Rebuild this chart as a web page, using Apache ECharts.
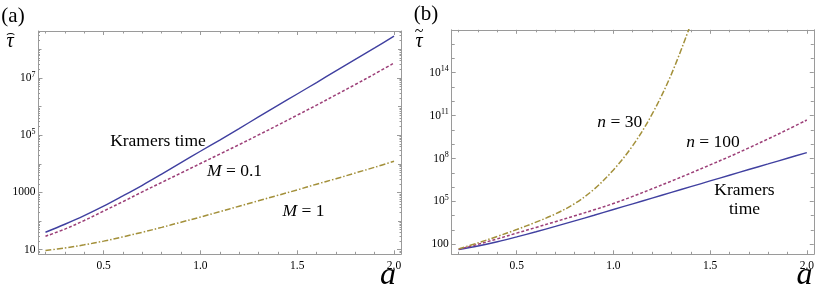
<!DOCTYPE html>
<html>
<head>
<meta charset="utf-8">
<script src="https://cdn.jsdelivr.net/npm/echarts@6/dist/echarts.min.js"></script>
<style>html,body{margin:0;padding:0;background:#fff;}#c{width:817px;height:287px;}</style>
</head>
<body>
<div id="c"></div>
<script>
// ---------- data (y values are log10 of tau) ----------
const aVals = [0.2,0.3,0.4,0.5,0.6,0.7,0.8,0.9,1.0,1.1,1.2,1.3,1.4,1.5,1.6,1.7,1.8,1.9,2.0];
// panel (a)
const kramersA = [1.61,1.89,2.19,2.52,2.88,3.25,3.64,4.04,4.44,4.83,5.23,5.64,6.04,6.44,6.84,7.25,7.65,8.05,8.46];
const m01A     = [1.47,1.72,2.02,2.35,2.68,3.02,3.35,3.68,4.01,4.34,4.67,5.01,5.35,5.70,6.05,6.41,6.77,7.14,7.52];
const m1A      = [0.97,1.06,1.17,1.30,1.45,1.61,1.78,1.96,2.14,2.33,2.52,2.71,2.90,3.09,3.29,3.48,3.68,3.88,4.09];
// panel (b)
const kramersB = [1.63,1.88,2.18,2.52,2.88,3.25,3.64,4.03,4.43,4.83,5.23,5.63,6.03,6.43,6.83,7.23,7.62,8.02,8.41];
const n100B    = [1.65,2.00,2.38,2.78,3.18,3.58,3.99,4.41,4.85,5.35,5.88,6.42,6.98,7.55,8.13,8.74,9.37,10.02,10.69];
const aValsN30 = [0.2,0.3,0.4,0.5,0.6,0.7,0.8,0.9,1.0,1.1,1.2,1.3,1.4];
const n30B     = [1.68,2.10,2.55,3.03,3.55,4.12,4.85,5.85,7.20,8.90,11.1,13.9,17.4];
// ticks
const xMajorTicks = [0.5,1.0,1.5,2.0];
const xMinorTicks = [0.2,0.3,0.4,0.6,0.7,0.8,0.9,1.1,1.2,1.3,1.4,1.6,1.7,1.8,1.9];
const yLabelExpA = [1,3,5,7];
const yDecadeExpA = [2,4,6,8];
const yLabelExpB = [2,5,8,11,14];
const yDecadeExpB = [3,4,6,7,9,10,12,13,15,16];

const X_MIN = 0.164, X_MAX = 2.036;
const Y_A = [0.84, 8.64];
const Y_B = [1.30, 17.0];

const FONT = '"Liberation Serif", "DejaVu Serif", serif';
const GRAY = '#9a9a9a';
const C_BLUE = '#4040a0', C_PURPLE = '#9c3f78', C_GOLD = '#a3903a';

function subTicks(lo, hi) {
  const out = [];
  for (let k = Math.floor(lo); k <= Math.ceil(hi); k++) {
    for (let m = 2; m <= 9; m++) {
      const v = k + Math.log10(m);
      if (v > lo && v < hi) out.push(v);
    }
  }
  return out;
}

function zip(xs, ys) { return xs.map((x, i) => [x, ys[i]]); }

const richLab = {
  b: {fontSize: 11.5, fontFamily: FONT, color: '#000'},
  s: {fontSize: 8, fontFamily: FONT, color: '#000', padding: [0, 0, 7, 0]}
};
function expFmt(plainExps) {
  return function (v) {
    const e = Math.round(v);
    if (plainExps.indexOf(e) >= 0) return '{b|' + Math.pow(10, e) + '}';
    return '{b|10}{s|' + e + '}';
  };
}

const xAxes = [], yAxes = [];
function addAxes(g, yRange, labelExps, decadeExps, subs, plain) {
  const base = {gridIndex: g, type: 'value', min: X_MIN, max: X_MAX, splitLine: {show: false}};
  xAxes.push(Object.assign({}, base, {
    position: 'bottom',
    axisLine: {show: true, lineStyle: {color: GRAY, width: 1}},
    axisTick: {show: true, inside: true, length: 4, customValues: xMajorTicks, lineStyle: {color: GRAY}},
    axisLabel: {show: true, customValues: xMajorTicks, margin: 6, fontSize: 11.5, fontFamily: FONT, color: '#000',
      formatter: v => v.toFixed(1)}
  }));
  xAxes.push(Object.assign({}, base, {
    position: 'bottom', axisLine: {show: false},
    axisTick: {show: true, inside: true, length: 2.5, customValues: xMinorTicks, lineStyle: {color: GRAY}},
    axisLabel: {show: false}
  }));
  xAxes.push(Object.assign({}, base, {
    position: 'top',
    axisLine: {show: true, lineStyle: {color: GRAY, width: 1}},
    axisTick: {show: true, inside: true, length: 4, customValues: xMajorTicks, lineStyle: {color: GRAY}},
    axisLabel: {show: false}
  }));
  xAxes.push(Object.assign({}, base, {
    position: 'top', axisLine: {show: false},
    axisTick: {show: true, inside: true, length: 2.5, customValues: xMinorTicks, lineStyle: {color: GRAY}},
    axisLabel: {show: false}
  }));
  const yb = {gridIndex: g, type: 'value', min: yRange[0], max: yRange[1], splitLine: {show: false}};
  ['left', 'right'].forEach(pos => {
    yAxes.push(Object.assign({}, yb, {
      position: pos,
      axisLine: {show: true, lineStyle: {color: GRAY, width: 1}},
      axisTick: {show: true, inside: true, length: 4, customValues: labelExps, lineStyle: {color: GRAY}},
      axisLabel: pos === 'left' ? {show: true, customValues: labelExps, margin: 3, formatter: expFmt(plain), rich: richLab} : {show: false}
    }));
    yAxes.push(Object.assign({}, yb, {
      position: pos, axisLine: {show: false},
      axisTick: {show: true, inside: true, length: 3, customValues: decadeExps, lineStyle: {color: GRAY}},
      axisLabel: {show: false}
    }));
    if (subs.length) {
      yAxes.push(Object.assign({}, yb, {
        position: pos, axisLine: {show: false},
        axisTick: {show: true, inside: true, length: 1.5, customValues: subs, lineStyle: {color: GRAY}},
        axisLabel: {show: false}
      }));
    }
  });
}
addAxes(0, Y_A, yLabelExpA, yDecadeExpA, subTicks(Y_A[0], Y_A[1]), [1, 3]);
const yOffsetB = yAxes.length;
addAxes(1, Y_B, yLabelExpB, yDecadeExpB, [], [2]);

function lineSeries(xi, yi, data, color, type, width) {
  return {type: 'line', xAxisIndex: xi, yAxisIndex: yi, data: data, showSymbol: false, smooth: 0.35,
    silent: true, clip: true, lineStyle: {color: color, width: width, type: type}};
}

const chart = echarts.init(document.getElementById('c'), null, {renderer: 'canvas'});
const txt = (x, y, text, size, extra) => ({type: 'text', x: x, y: y, silent: true,
  style: Object.assign({text: text, fontSize: size, fontFamily: FONT, fill: '#000',
    align: 'center', verticalAlign: 'middle', textAlign: 'center', textVerticalAlign: 'middle'}, extra || {})});
const richI = {i: {fontStyle: 'italic', fontFamily: FONT, fontSize: 17.5}, r: {fontFamily: FONT, fontSize: 17.5}};

chart.setOption({
  animation: false,
  backgroundColor: '#fff',
  grid: [
    {left: 38.5, top: 31, width: 362.5, height: 223.3, containLabel: false},
    {left: 451.7, top: 29.8, width: 363.3, height: 224.5, containLabel: false}
  ],
  xAxis: xAxes,
  yAxis: yAxes,
  series: [
    lineSeries(0, 0, zip(aVals, kramersA), C_BLUE, 'solid', 1.4),
    lineSeries(0, 0, zip(aVals, m01A), C_PURPLE, [3, 2], 1.5),
    lineSeries(0, 0, zip(aVals, m1A), C_GOLD, [6, 2, 1.5, 2], 1.5),
    lineSeries(4, yOffsetB, zip(aVals, kramersB), C_BLUE, 'solid', 1.4),
    lineSeries(4, yOffsetB, zip(aVals, n100B), C_PURPLE, [3, 2], 1.5),
    lineSeries(4, yOffsetB, zip(aValsN30, n30B), C_GOLD, [6, 2, 1.5, 2], 1.5)
  ],
  graphic: [
    txt(13, 16, '(a)', 21),
    txt(426, 14, '(b)', 21),
    txt(10, 42, 'τ', 20, {fontStyle: 'italic'}),
    txt(10, 33, '⌢', 14),
    txt(419, 42, 'τ', 20, {fontStyle: 'italic'}),
    txt(419, 32, '~', 16),
    txt(158, 141, 'Kramers time', 17.5),
    txt(234.5, 171, '{i|M}{r| = 0.1}', 17.5, {rich: richI}),
    txt(303.5, 211, '{i|M}{r| = 1}', 17.5, {rich: richI}),
    txt(619.7, 122, '{i|n}{r| = 30}', 17.5, {rich: richI}),
    txt(713, 142, '{i|n}{r| = 100}', 17.5, {rich: richI}),
    txt(744.5, 190, 'Kramers', 17.5),
    txt(744.5, 209, 'time', 17.5),
    txt(388, 276, 'a', 32, {fontStyle: 'italic'}),
    txt(804.5, 276, 'a', 32, {fontStyle: 'italic'})
  ]
});
</script>
</body>
</html>
